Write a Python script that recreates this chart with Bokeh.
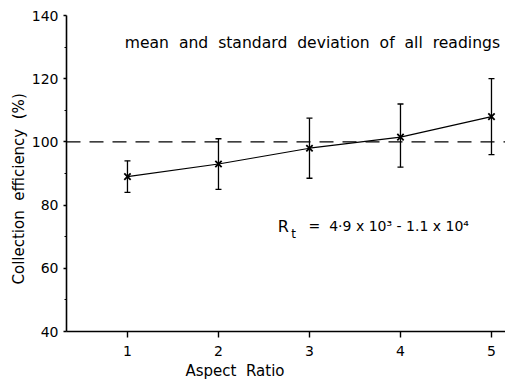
from bokeh.plotting import figure
from bokeh.models import (ColumnDataSource, Whisker, TeeHead, Label, Span,
                          FixedTicker, Range1d, Title)
from bokeh.embed import file_html
from bokeh.resources import INLINE

# Collection efficiency against aspect ratio (mean and standard deviation)
aspect_ratio = [1, 2, 3, 4, 5]
efficiency_mean = [89, 93, 98, 101.5, 108]
efficiency_low = [84, 85, 88.5, 92, 96]
efficiency_high = [94, 101, 107.5, 112, 120]

x_ticks = [1, 2, 3, 4, 5]
y_ticks = [40, 60, 80, 100, 120, 140]
y_minor = [50, 70, 90, 110, 130]
reference_level = 100

FONT = "DejaVu Sans"
NB = "\u00a0"
X0, X1 = 0.33, 5.154
Y0, Y1 = 40, 140


def spaced(*words):
    return (NB * 2).join(words)


p = figure(width=505, height=383, output_backend="svg", toolbar_location=None,
           x_range=Range1d(X0, X1), y_range=Range1d(Y0, Y1),
           min_border_left=66, min_border_right=0, min_border_top=15,
           min_border_bottom=52)
p.outline_line_color = None
p.xgrid.visible = False
p.ygrid.visible = False
p.background_fill_color = "white"
p.border_fill_color = "white"

# axes
for ax in (p.xaxis[0], p.yaxis[0]):
    ax.axis_line_color = "black"
    ax.axis_line_width = 1.6
    ax.major_tick_line_color = "black"
    ax.major_tick_line_width = 1.4
    ax.major_tick_in = 0
    ax.major_label_text_font = FONT
    ax.major_label_text_font_size = "14px"
    ax.major_label_text_color = "black"

p.xaxis.ticker = FixedTicker(ticks=x_ticks)
p.xaxis.major_tick_out = 6
p.xaxis.minor_tick_line_color = None
p.xaxis.major_label_standoff = 8

p.yaxis.ticker = FixedTicker(ticks=y_ticks, minor_ticks=y_minor)
p.yaxis.major_tick_out = 3
p.yaxis.minor_tick_out = 2
p.yaxis.minor_tick_in = 0
p.yaxis.minor_tick_line_color = "black"
p.yaxis.major_label_standoff = 5

# axis titles
p.add_layout(Title(text=spaced("Aspect", "Ratio"), align="left", offset=119,
                   text_font=FONT, text_font_size="15px", text_font_style="normal",
                   text_color="black", standoff=2), "below")
p.add_layout(Title(text=spaced("Collection", "efficiency", "(%)"), align="left",
                   offset=47, text_font=FONT, text_font_size="15px",
                   text_font_style="normal", text_color="black", standoff=2), "left")

# reference line at 100 %
p.add_layout(Span(location=reference_level, dimension="width",
                  line_color="black", line_width=1.3, line_dash="14 9"))

src = ColumnDataSource(dict(x=aspect_ratio, y=efficiency_mean,
                            lo=efficiency_low, hi=efficiency_high))

p.add_layout(Whisker(source=src, base="x", upper="hi", lower="lo",
                     line_color="black", line_width=1.3,
                     upper_head=TeeHead(size=6, line_color="black", line_width=1.3),
                     lower_head=TeeHead(size=6, line_color="black", line_width=1.3)))

p.line("x", "y", source=src, line_color="black", line_width=1.2)
p.scatter("x", "y", source=src, marker="x", size=9, line_color="black",
          line_width=1.8)

# annotation texts
heading = spaced("mean", "and", "standard", "deviation", "of", "all", "readings")
p.add_layout(Label(x=0.97, y=131.4, text=heading,
                   text_font=FONT, text_font_size="15.6px", text_color="black",
                   text_baseline="middle", text_align="left"))

p.add_layout(Label(x=2.65, y=73.3, text="R", text_font=FONT,
                   text_font_size="16px", text_color="black",
                   text_baseline="middle", text_align="left"))
p.add_layout(Label(x=2.80, y=70.8, text="t", text_font=FONT,
                   text_font_size="12px", text_color="black",
                   text_baseline="middle", text_align="left"))
p.add_layout(Label(x=2.99, y=73.3, text="=" + NB * 2 + "4·9 x 10³ - 1.1 x 10⁴",
                   text_font=FONT, text_font_size="14px", text_color="black",
                   text_baseline="middle", text_align="left"))

open("out.html", "w").write(file_html(p, INLINE))
